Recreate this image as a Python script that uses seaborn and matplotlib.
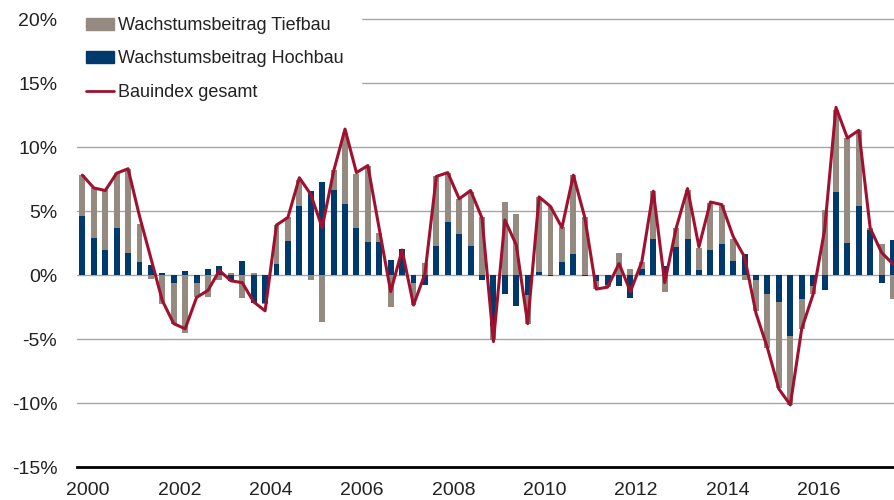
import numpy as np
import pandas as pd
import seaborn as sns
import matplotlib.pyplot as plt
from matplotlib.patches import Patch
from matplotlib.lines import Line2D

# Quarterly values 2000Q1 .. 2017Q4, growth contributions in %
hochbau = [4.6, 2.9, 1.95, 3.7, 1.75, 1.0, 0.75, 0.15,
           -0.65, 0.35, -0.65, 0.45, 0.7, -0.5, 1.1, -2.15,
           -2.15, 0.86, 2.65, 5.4, 6.55, 7.25, 6.65, 5.55,
           3.7, 2.6, 2.6, 1.15, 2.0, -0.65, -0.75, 2.25,
           4.15, 3.2, 2.25, -0.4, -4.0, -1.45, -2.45, -1.6,
           0.25, -0.1, 1.05, 1.65, -0.05, -0.5, -0.75, -0.85,
           -1.8, 0.45, 2.8, 0.7, 2.2, 2.85, 0.4, 1.95,
           2.4, 1.1, 1.65, -0.4, -1.45, -2.1, -4.8, -1.9,
           -0.85, -1.15, 6.5, 2.5, 5.4, 3.5, -0.65, 2.7]
tiefbau = [3.2, 3.9, 4.7, 4.25, 6.55, 3.0, -0.3, -2.3,
           -3.15, -4.55, -1.05, -1.7, -0.4, 0.15, -1.8, 0.15,
           -0.1, 3.04, 1.85, 2.0, -0.4, -3.7, 1.55, 5.55,
           4.2, 5.95, 0.65, -2.5, -0.1, -1.7, 0.95, 5.5,
           3.85, 2.75, 4.25, 4.55, -1.1, 5.7, 4.75, -2.2,
           5.85, 5.35, 2.7, 6.15, 4.55, -0.6, -0.2, 1.7,
           0.45, 0.6, 3.75, -1.3, 1.45, 3.8, 1.7, 3.65,
           3.05, 1.75, -0.4, -2.45, -4.25, -6.75, -5.35, -2.3,
           -0.6, 5.1, 6.4, 8.2, 5.9, 0.15, 2.4, -1.9]
gesamt = [7.8, 6.8, 6.6, 7.95, 8.3, 4.6, 1.3, -2.0,
          -3.8, -4.2, -1.75, -1.2, 0.35, -0.45, -0.6, -2.1,
          -2.8, 3.9, 4.5, 7.6, 6.3, 3.7, 8.1, 11.4,
          8.0, 8.55, 3.6, -1.3, 1.95, -2.35, 0.1, 7.7,
          8.0, 5.95, 6.6, 4.45, -5.2, 4.3, 2.35, -3.8,
          6.1, 5.35, 3.7, 7.8, 4.5, -1.1, -0.95, 0.9,
          -1.3, 1.05, 6.55, -0.6, 3.65, 6.75, 2.2, 5.7,
          5.5, 3.0, 1.4, -3.0, -5.7, -8.9, -10.15, -4.2,
          -1.5, 3.5, 13.1, 10.7, 11.3, 3.65, 1.75, 0.85]
years = list(range(2000, 2018))
year_labels = [str(y) for y in range(2000, 2018, 2)]

c_tief = "#958a80"
c_hoch = "#003a6c"
c_line = "#a0112f"

df = pd.DataFrame({"hochbau": hochbau, "tiefbau": tiefbau, "gesamt": gesamt})
df["pos"] = 2000 + (np.arange(len(df)) + 0.5) / 4
# Tiefbau sits on top of Hochbau if same sign, otherwise starts at zero
same = np.sign(df["hochbau"]) == np.sign(df["tiefbau"])
df["tief_top"] = np.where(same, df["hochbau"] + df["tiefbau"], df["tiefbau"])

sns.set_style("white")
plt.rcParams["font.family"] = ["Liberation Sans", "DejaVu Sans"]

fig = plt.figure(figsize=(8.95, 5), dpi=100)
ax = fig.add_axes([76.7 / 895, 33 / 500, 1 - 76.7 / 895, 467 / 500])

sns.barplot(data=df, x="pos", y="tief_top", native_scale=True, color=c_tief,
            saturation=1, width=0.52, errorbar=None, linewidth=0, ax=ax)
sns.barplot(data=df, x="pos", y="hochbau", native_scale=True, color=c_hoch,
            saturation=1, width=0.52, errorbar=None, linewidth=0, ax=ax)
sns.lineplot(data=df, x="pos", y="gesamt", color=c_line, linewidth=2.2, ax=ax)

ax.set_xlim(2000, 2000 + (895 - 76.7) / 45.67)
ax.set_ylim(-15, 275 / 12.8)
ax.set_yticks(range(-15, 21, 5))
ax.set_yticklabels([f"{v}%" for v in range(-15, 21, 5)], fontsize=14, color="#222222")
ax.set_xticks([int(y) + 0.25 for y in year_labels])
ax.set_xticklabels(year_labels, fontsize=14, color="#222222")
ax.set_xticks(years, minor=True)
ax.tick_params(axis="x", which="major", length=0, pad=11)
ax.tick_params(axis="x", which="minor", length=5, width=1.5, direction="out", color="black")
ax.tick_params(axis="y", length=0, pad=14)

ax.set_axisbelow(True)
for v in range(-10, 21, 5):
    ax.axhline(v, color="#a6a6a6", linewidth=1, zorder=0)
for s in ["top", "right", "left"]:
    ax.spines[s].set_visible(False)
ax.spines["bottom"].set_color("black")
ax.spines["bottom"].set_linewidth(2)
ax.set_xlabel("")
ax.set_ylabel("")

handles = [Patch(color=c_tief), Patch(color=c_hoch), Line2D([], [], color=c_line, linewidth=2)]
labels = ["Wachstumsbeitrag Tiefbau", "Wachstumsbeitrag Hochbau", "Bauindex gesamt"]
leg = ax.legend(handles, labels, loc="upper left", bbox_to_anchor=(-0.009, 1.0), borderaxespad=0,
                fontsize=13, frameon=True, facecolor="white", edgecolor="white", framealpha=1,
                fancybox=False, handlelength=1.55, handleheight=0.6, handletextpad=0.2,
                labelspacing=0.9, borderpad=0.95)
for t in leg.get_texts():
    t.set_color("#222222")
leg.set_zorder(5)

fig.savefig("out.png", dpi=100)
